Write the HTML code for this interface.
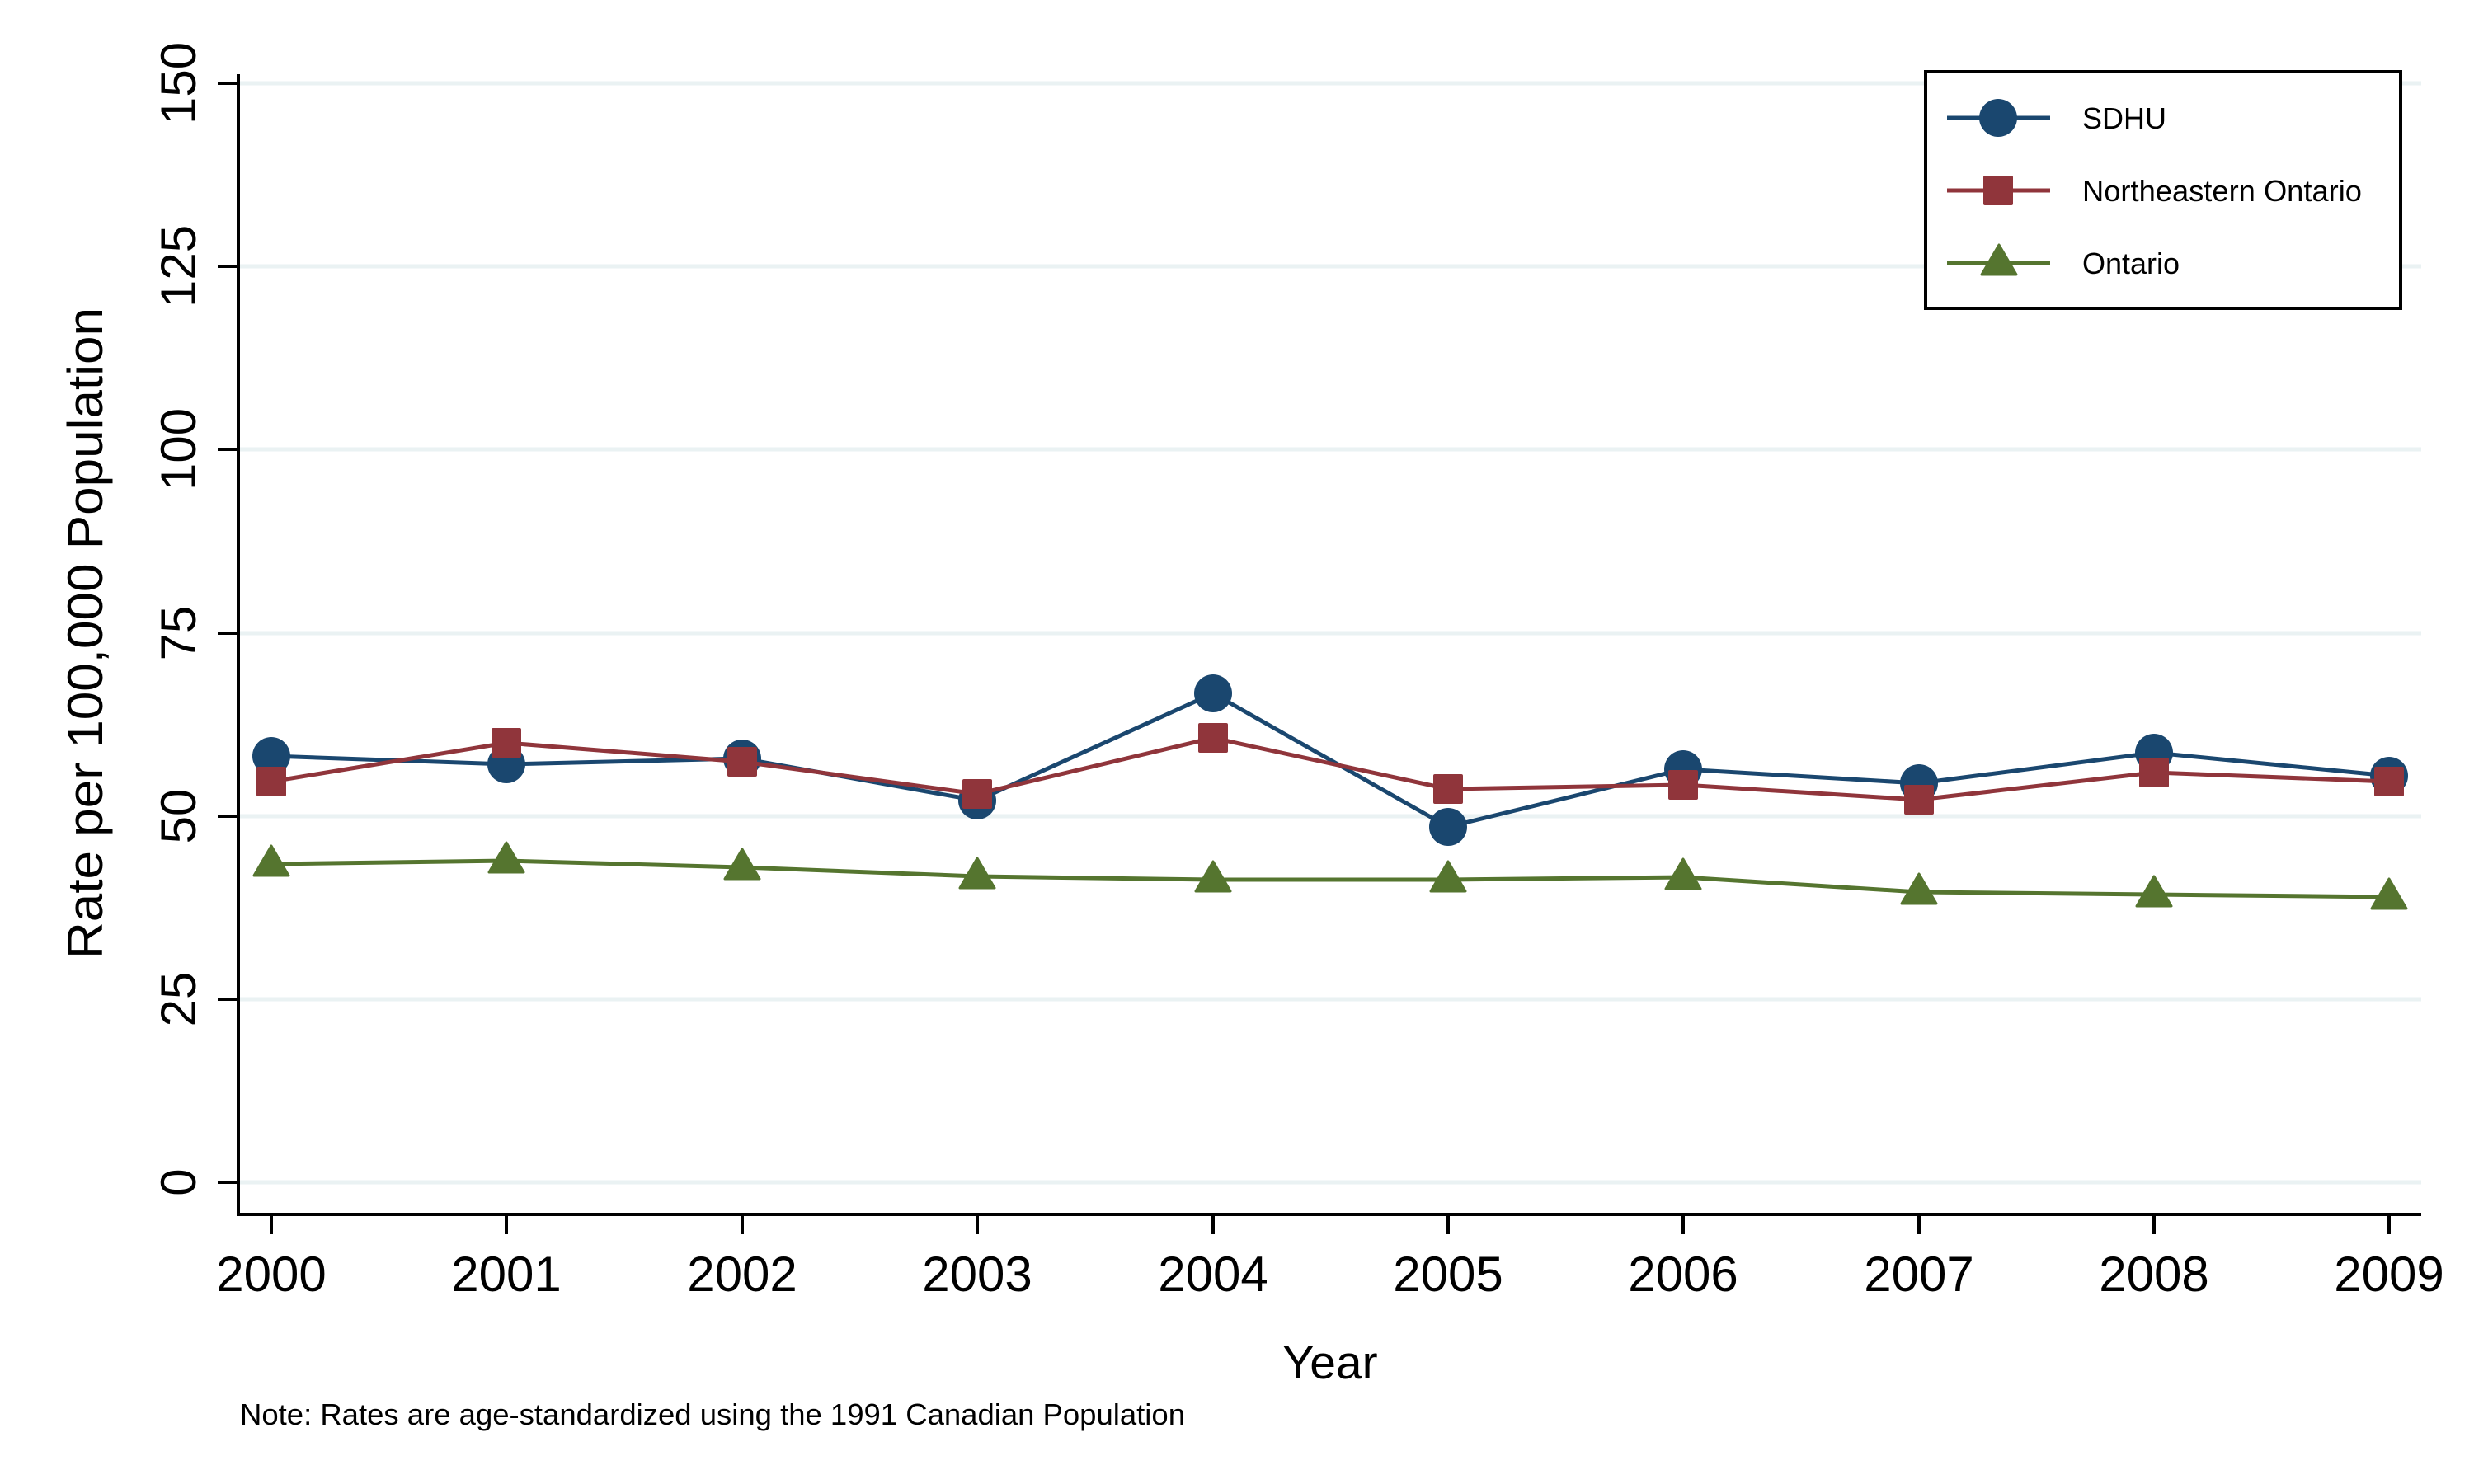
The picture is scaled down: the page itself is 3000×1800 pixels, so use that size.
<!DOCTYPE html>
<html><head><meta charset="utf-8"><style>html,body{margin:0;padding:0;background:#fff}svg{display:block}</style></head>
<body>
<svg width="3000" height="1800" viewBox="0 0 3000 1800" xmlns="http://www.w3.org/2000/svg" font-family="Liberation Sans, Arial, sans-serif">
<rect width="3000" height="1800" fill="#fff"/>
<g stroke="#eaf2f3" stroke-width="5">
<line x1="291" x2="2936" y1="1434" y2="1434"/>
<line x1="291" x2="2936" y1="1212" y2="1212"/>
<line x1="291" x2="2936" y1="990" y2="990"/>
<line x1="291" x2="2936" y1="768" y2="768"/>
<line x1="291" x2="2936" y1="545" y2="545"/>
<line x1="291" x2="2936" y1="323" y2="323"/>
<line x1="291" x2="2936" y1="101" y2="101"/>
</g>
<g stroke="#000" stroke-width="4">
<line x1="289" y1="90" x2="289" y2="1475"/>
<line x1="287" y1="1473" x2="2936" y2="1473"/>
<line x1="264" x2="289" y1="1434" y2="1434"/>
<line x1="264" x2="289" y1="1212" y2="1212"/>
<line x1="264" x2="289" y1="990" y2="990"/>
<line x1="264" x2="289" y1="768" y2="768"/>
<line x1="264" x2="289" y1="545" y2="545"/>
<line x1="264" x2="289" y1="323" y2="323"/>
<line x1="264" x2="289" y1="101" y2="101"/>
<line x1="329" x2="329" y1="1473" y2="1497"/>
<line x1="614" x2="614" y1="1473" y2="1497"/>
<line x1="900" x2="900" y1="1473" y2="1497"/>
<line x1="1185" x2="1185" y1="1473" y2="1497"/>
<line x1="1471" x2="1471" y1="1473" y2="1497"/>
<line x1="1756" x2="1756" y1="1473" y2="1497"/>
<line x1="2041" x2="2041" y1="1473" y2="1497"/>
<line x1="2327" x2="2327" y1="1473" y2="1497"/>
<line x1="2612" x2="2612" y1="1473" y2="1497"/>
<line x1="2897" x2="2897" y1="1473" y2="1497"/>
</g>
<g font-size="60" text-anchor="middle" fill="#000">
<text transform="translate(237,1434) rotate(-90)">0</text>
<text transform="translate(237,1212) rotate(-90)">25</text>
<text transform="translate(237,990) rotate(-90)">50</text>
<text transform="translate(237,768) rotate(-90)">75</text>
<text transform="translate(237,545) rotate(-90)">100</text>
<text transform="translate(237,323) rotate(-90)">125</text>
<text transform="translate(237,101) rotate(-90)">150</text>
<text x="329" y="1566">2000</text>
<text x="614" y="1566">2001</text>
<text x="900" y="1566">2002</text>
<text x="1185" y="1566">2003</text>
<text x="1471" y="1566">2004</text>
<text x="1756" y="1566">2005</text>
<text x="2041" y="1566">2006</text>
<text x="2327" y="1566">2007</text>
<text x="2612" y="1566">2008</text>
<text x="2897" y="1566">2009</text>
<text transform="translate(124,768) rotate(-90)" textLength="790" lengthAdjust="spacingAndGlyphs">Rate per 100,000 Population</text>
<text x="1613" y="1672" font-size="57">Year</text>
</g>
<text x="291" y="1728" font-size="36" textLength="1146" lengthAdjust="spacingAndGlyphs">Note: Rates are age-standardized using the 1991 Canadian Population</text>

<!-- Ontario -->
<polyline fill="none" stroke="#55752f" stroke-width="5" points="329,1048 614,1044 900,1052 1185,1063 1471,1067 1756,1067 2041,1064 2327,1082 2612,1085 2897,1088"/>
<g fill="#55752f" stroke="#55752f" stroke-width="3" stroke-linejoin="round">
<polygon points="329,1026 350,1062 308,1062"/>
<polygon points="614,1022 635,1058 593,1058"/>
<polygon points="900,1030 921,1066 879,1066"/>
<polygon points="1185,1041 1206,1077 1164,1077"/>
<polygon points="1471,1045 1492,1081 1450,1081"/>
<polygon points="1756,1045 1777,1081 1735,1081"/>
<polygon points="2041,1042 2062,1078 2020,1078"/>
<polygon points="2327,1060 2348,1096 2306,1096"/>
<polygon points="2612,1063 2633,1099 2591,1099"/>
<polygon points="2897,1066 2918,1102 2876,1102"/>
</g>
<!-- SDHU -->
<polyline fill="none" stroke="#1a476f" stroke-width="5" points="329,917 614,927 900,920 1185,971 1471,841 1756,1003 2041,933 2327,950 2612,913 2897,941"/>
<g fill="#1a476f">
<circle cx="329" cy="917" r="23"/><circle cx="614" cy="927" r="23"/><circle cx="900" cy="920" r="23"/><circle cx="1185" cy="971" r="23"/><circle cx="1471" cy="841" r="23"/><circle cx="1756" cy="1003" r="23"/><circle cx="2041" cy="933" r="23"/><circle cx="2327" cy="950" r="23"/><circle cx="2612" cy="913" r="23"/><circle cx="2897" cy="941" r="23"/>
</g>
<!-- NE Ontario -->
<polyline fill="none" stroke="#90353b" stroke-width="5" points="329,948 614,901 900,924 1185,963 1471,895 1756,957 2041,952 2327,970 2612,937 2897,948"/>
<g fill="#90353b">
<rect x="311" y="930" width="36" height="36" rx="2"/><rect x="596" y="883" width="36" height="36" rx="2"/><rect x="882" y="906" width="36" height="36" rx="2"/><rect x="1167" y="945" width="36" height="36" rx="2"/><rect x="1453" y="877" width="36" height="36" rx="2"/><rect x="1738" y="939" width="36" height="36" rx="2"/><rect x="2023" y="934" width="36" height="36" rx="2"/><rect x="2309" y="952" width="36" height="36" rx="2"/><rect x="2594" y="919" width="36" height="36" rx="2"/><rect x="2879" y="930" width="36" height="36" rx="2"/>
</g>

<!-- Legend -->
<rect x="2335" y="87" width="576" height="287" fill="#fff" stroke="#000" stroke-width="4"/>
<line x1="2361" x2="2486" y1="143" y2="143" stroke="#1a476f" stroke-width="5"/>
<circle cx="2423" cy="143" r="23" fill="#1a476f"/>
<line x1="2361" x2="2486" y1="231" y2="231" stroke="#90353b" stroke-width="5"/>
<rect x="2405" y="213" width="36" height="36" rx="2" fill="#90353b"/>
<line x1="2361" x2="2486" y1="319" y2="319" stroke="#55752f" stroke-width="5"/>
<polygon points="2424,297 2445,333 2403,333" fill="#55752f" stroke="#55752f" stroke-width="3" stroke-linejoin="round"/>
<g font-size="36" fill="#000">
<text x="2525" y="156">SDHU</text>
<text x="2525" y="244" textLength="339" lengthAdjust="spacingAndGlyphs">Northeastern Ontario</text>
<text x="2525" y="332">Ontario</text>
</g>
</svg>
</body></html>
